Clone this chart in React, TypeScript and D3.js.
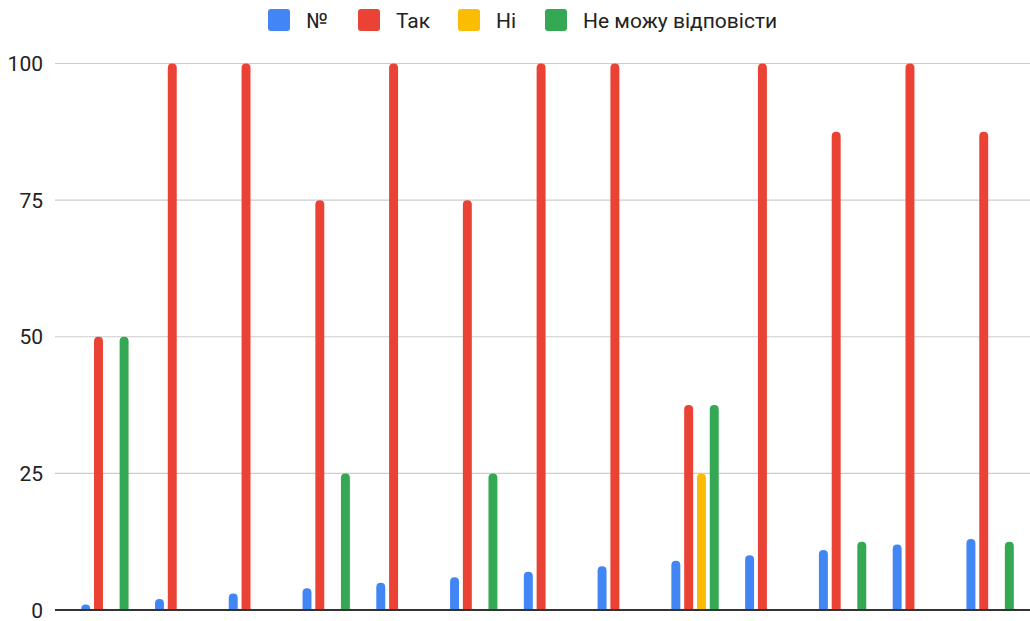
import * as d3 from "d3";

const groups = ["1", "2", "3", "4", "5", "6", "7", "8", "9", "10", "11", "12", "13"];
const seriesNames = ["№", "Так", "Ні", "Не можу відповісти"];
const seriesColors = ["#4285f4", "#ea4335", "#fbbc04", "#34a853"];

const numbers = [1, 2, 3, 4, 5, 6, 7, 8, 9, 10, 11, 12, 13];
const yes = [50, 100, 100, 75, 100, 75, 100, 100, 37.5, 100, 87.5, 100, 87.5];
const no = [0, 0, 0, 0, 0, 0, 0, 0, 25, 0, 0, 0, 0];
const cantSay = [50, 0, 0, 25, 0, 25, 0, 0, 37.5, 0, 12.5, 0, 12.5];

const yTicks = [0, 25, 50, 75, 100];

const width = 1030;
const height = 621;
const font = "Roboto, sans-serif";

// path for a bar with only its top corners rounded
function barPath(x: number, y: number, w: number, h: number, r: number) {
    const rr = Math.min(r, h, w / 2);
    return `M${x},${y + h}V${y + rr}Q${x},${y} ${x + rr},${y}H${x + w - rr}Q${x + w},${y} ${x + w},${y + rr}V${y + h}Z`;
}

export default function App() {
    const values = [numbers, yes, no, cantSay];

    const x = d3.scaleBand<string>().domain(groups).range([68, 1027]).padding(0);
    const xInner = d3
        .scaleBand<string>()
        .domain(seriesNames)
        .range([11.3, 62.5])
        .paddingInner(0.3)
        .paddingOuter(0.15);
    const y = d3.scaleLinear().domain([0, 100]).range([610, 63.5]);

    const legendX = [268, 358, 458, 545];

    return (
        <svg
            width={width}
            height={height}
            style={{ position: "absolute", left: 0, top: 0, background: "#fff" }}
        >
            {/* legend */}
            {seriesNames.map((name, i) => (
                <g key={name}>
                    <rect x={legendX[i]} y={9} width={22} height={22} rx={3} fill={seriesColors[i]} />
                    <text
                        x={legendX[i] + 38}
                        y={27.5}
                        fontFamily={font}
                        fontSize={21}
                        fill="#222"
                    >
                        {name}
                    </text>
                </g>
            ))}

            {/* grid and y labels */}
            {yTicks.map((t) => (
                <g key={t}>
                    {t > 0 && (
                        <line x1={55} x2={1030} y1={y(t)} y2={y(t)} stroke="#cccccc" strokeWidth={1.2} />
                    )}
                    <text
                        x={43}
                        y={y(t) + 7.5}
                        textAnchor="end"
                        fontFamily={font}
                        fontSize={21}
                        fill="#222"
                    >
                        {t}
                    </text>
                </g>
            ))}

            {/* bars */}
            {groups.map((g, gi) => (
                <g key={g} transform={`translate(${x(g)},0)`}>
                    {seriesNames.map((s, si) => {
                        const v = values[si][gi];
                        if (!v) return null;
                        const top = y(v);
                        return (
                            <path
                                key={s}
                                d={barPath(xInner(s)!, top, xInner.bandwidth(), y(0) - top, 4.5)}
                                fill={seriesColors[si]}
                            />
                        );
                    })}
                </g>
            ))}

            {/* baseline */}
            <line x1={55} x2={1030} y1={y(0)} y2={y(0)} stroke="#333" strokeWidth={2} />
        </svg>
    );
}
